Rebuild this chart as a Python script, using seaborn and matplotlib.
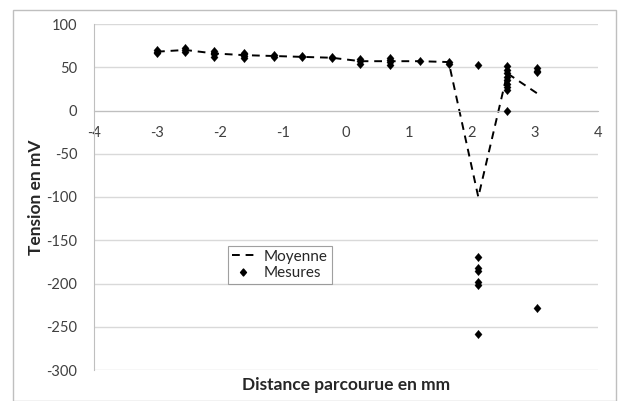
import matplotlib
matplotlib.use("Agg")
import matplotlib.pyplot as plt
import seaborn as sns
import pandas as pd
from matplotlib.patches import Rectangle
from matplotlib.lines import Line2D
from matplotlib.path import Path

# ---- data ----
mes_x = ([-3.0] * 3 + [-2.55] * 3 + [-2.1] * 4 + [-1.62] * 4 + [-1.15] * 2 +
         [-0.7] * 2 + [-0.23] * 2 + [0.23] * 3 + [0.7] * 4 + [1.17] + [1.63] * 2 +
         [2.1] * 7 + [2.56] * 9 + [3.03] * 4)
mes_y = [66, 68, 70,
         68, 70, 72,
         62, 65, 67, 69,
         61, 63, 65, 67,
         62, 64,
         62, 63,
         61, 62,
         54, 57, 59,
         53, 56, 58, 61,
         57,
         54, 56,
         53, -169, -182, -185, -198, -202, -258,
         51, 47, 43, 39, 35, 31, 27, 24, 0,
         49, 46, 44, -228]
moy_x = [-3.0, -2.55, -2.1, -1.62, -1.15, -0.7, -0.23, 0.23, 0.7, 1.17, 1.63, 2.1, 2.56, 3.03]
moy_y = [68, 70, 66, 64, 63, 62, 61, 57, 57, 57, 56, -100, 43, 20]
x_ticks = [-4, -3, -2, -1, 0, 1, 2, 3, 4]
y_ticks = [100, 50, 0, -50, -100, -150, -200, -250, -300]

df_mes = pd.DataFrame({"x": mes_x, "y": mes_y})
df_moy = pd.DataFrame({"x": moy_x, "y": moy_y})

sns.set_style("white")
plt.rcParams["font.family"] = ["Lato", "DejaVu Sans"]

diamond = Path([(0, 1), (0.85, 0), (0, -1), (-0.85, 0), (0, 1)],
               [Path.MOVETO, Path.LINETO, Path.LINETO, Path.LINETO, Path.CLOSEPOLY])

fig = plt.figure(figsize=(6.18, 4.01), dpi=100)
ax = fig.add_axes([94 / 618, 1 - 370 / 401, (598 - 94) / 618, (370 - 24) / 401])

sns.lineplot(data=df_moy, x="x", y="y", ax=ax, color="black", lw=1.4,
             linestyle=(0, (4, 3)), sort=False, estimator=None)
sns.scatterplot(data=df_mes, x="x", y="y", ax=ax, color="black", marker=diamond,
                s=38, edgecolor="black", linewidth=0.2, zorder=5)

ax.set_xlim(-4, 4)
ax.set_ylim(-300, 100)
ax.set_xticks(x_ticks)
ax.set_yticks(y_ticks)
ax.set_xticklabels([str(t) for t in x_ticks])
ax.set_yticklabels([str(t) for t in y_ticks])
ax.yaxis.grid(True, color="#D9D9D9", lw=1)
ax.xaxis.grid(False)
for s in ["top", "right"]:
    ax.spines[s].set_visible(False)
ax.spines["left"].set_color("#BFBFBF")
ax.spines["bottom"].set_color("#BFBFBF")
ax.spines["bottom"].set_position(("data", 0))
ax.tick_params(axis="both", length=0, labelsize=10.5, colors="#404040")
ax.tick_params(axis="x", pad=11)
ax.tick_params(axis="y", pad=12)
ax.set_xlabel("")
ax.set_ylabel("Tension en mV", fontsize=12.5, fontweight="bold", labelpad=2)
fig.text(346 / 618, 1 - 385 / 401, "Distance parcourue en mm", ha="center",
         va="center", fontsize=12.5, fontweight="bold")

handles = [Line2D([], [], color="black", lw=1.4, linestyle=(0, (4, 3))),
           Line2D([], [], color="black", marker=diamond, markersize=5, lw=0)]
leg = ax.legend(handles, ["Moyenne", "Mesures"], loc="upper left",
                bbox_to_anchor=((228 - 94) / 504, (370 - 246) / 346),
                frameon=True, fancybox=False, fontsize=11, handlelength=1.5,
                borderpad=0.25, labelspacing=0.15, handletextpad=0.6,
                borderaxespad=0)
leg.get_frame().set_edgecolor("#888888")
leg.get_frame().set_linewidth(0.8)

fig.patches.append(Rectangle((13 / 618, 0.0), (616 - 13) / 618, 1 - 10 / 401 - 0.0,
                             transform=fig.transFigure, fill=False,
                             edgecolor="#BFBFBF", lw=1))

fig.savefig("out.png", dpi=100)
